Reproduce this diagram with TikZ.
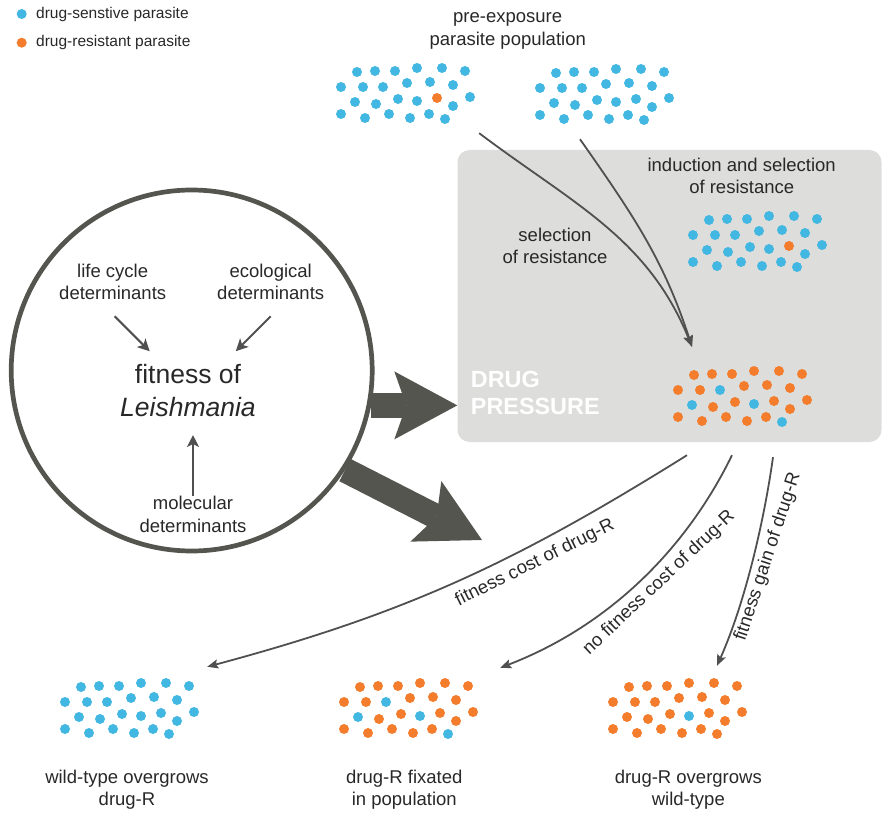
\documentclass[tikz,border=0pt]{standalone}
\usepackage{fontspec}
\setmainfont{Liberation Sans}
\usetikzlibrary{arrows.meta,calc}
\definecolor{sensblue}{RGB}{66,183,226}
\definecolor{resorange}{RGB}{243,125,44}
\definecolor{txtgray}{RGB}{40,40,40}
\definecolor{arrowgray}{RGB}{80,80,80}
\definecolor{circlegray}{RGB}{85,85,80}
\definecolor{boxgray}{RGB}{221,221,220}
\newcommand{\labelsize}{\fontsize{18.5}{22.6}\selectfont}
\newcommand{\parasites}[2]{
	\foreach \dx/\dy [count=\idx from 0] in {-48/22,-30/23,-10/23,12/26,37/26,60/23,
		-64/7,-42/7,-22/7,2/11,25/12,48/9,
		-50/-8,-29/-10,-7/-5,12/-7,32/-4,48/-12,65/-3,
		-64/-20,-40/-24,-16/-20,5/-24,24/-20,40/-25}{
		\pgfmathtruncatemacro{\isres}{{#2}[\idx]}
		\ifnum\isres=1
			\fill[resorange] ($(#1)+(\dx,\dy)$) circle (5);
		\else
			\fill[sensblue] ($(#1)+(\dx,\dy)$) circle (5);
		\fi
	}
}
\tikzset{
	lbl/.style={font=\labelsize, text=txtgray, align=center, inner sep=0pt},
	legendtxt/.style={font=\fontsize{15.5}{19}\selectfont, text=txtgray, anchor=west, inner sep=0pt},
	cluster/.style={minimum width=140pt, minimum height=62pt, inner sep=0pt},
	drugbox/.style={fill=boxgray, rounded corners=12pt, minimum width=424pt, minimum height=292pt, inner sep=0pt},
	smallarrow/.style={arrowgray, line width=2pt, -{Stealth[length=12pt,width=12pt,inset=3pt]}},
	curvearrow/.style={arrowgray, line width=1.8pt, -{Stealth[length=11pt,width=9pt,inset=2pt]}},
	bigarrow/.style={circlegray, line width=25pt, -{Stealth[length=63pt,width=68pt,inset=12pt,line width=0pt]}}
}
\begin{document}
\begin{tikzpicture}[x=1pt,y=1pt]
	\useasboundingbox (0,0) rectangle (883,-813);

	\node[drugbox] (drug) at (669.5,-296) {};
	\node[draw=circlegray, line width=4.7pt, circle, minimum size=361pt] (fitcircle) at (191.7,-370.5) {};

	% legend
	\node[legendtxt] (legsens) at (36,-14) {drug-senstive parasite};
	\node[legendtxt] (legres) at (36,-42.7) {drug-resistant parasite};
	\fill[sensblue] ([xshift=-14.3pt]legsens.west) circle (5);
	\fill[resorange] ([xshift=-14.3pt]legres.west) circle (5);

	% populations
	\node[cluster] (pre1) at (405,-94) {};
	\node[cluster] (pre2) at (604,-95) {};
	\node[cluster] (induced) at (757,-242) {};
	\node[cluster] (respop) at (742,-397) {};
	\node[cluster] (wild) at (129,-709) {};
	\node[cluster] (fixed) at (408,-709) {};
	\node[cluster] (overgrow) at (677,-709) {};

	\parasites{pre1}{0,0,0,0,0,0, 0,0,0,0,0,0, 0,0,0,0,1,0,0, 0,0,0,0,0,0}
	\parasites{pre2}{0,0,0,0,0,0, 0,0,0,0,0,0, 0,0,0,0,0,0,0, 0,0,0,0,0,0}
	\parasites{induced}{0,0,0,0,0,0, 0,0,0,0,0,0, 0,0,0,0,1,0,0, 0,0,0,0,0,0}
	\parasites{respop}{1,1,1,1,1,1, 1,1,0,1,1,1, 0,1,1,0,1,1,1, 1,1,1,1,1,0}
	\parasites{wild}{0,0,0,0,0,0, 0,0,0,0,0,0, 0,0,0,0,0,0,0, 0,0,0,0,0,0}
	\parasites{fixed}{1,1,1,1,1,1, 1,1,0,1,1,1, 0,1,1,0,1,1,1, 1,1,1,1,1,0}
	\parasites{overgrow}{1,1,1,1,1,1, 1,1,1,1,1,1, 1,1,1,0,1,1,1, 1,1,1,1,1,1}

	% texts
	\node[lbl] (preexp) at (507.7,-31) {pre-exposure\\parasite population};
	\node[lbl] (induct) at (741.7,-176) {induction and selection\\of resistance};
	\node[lbl] (select) at (555,-246) {selection\\of resistance};
	\node[lbl] (life) at (112.7,-282) {life cycle\\determinants};
	\node[lbl] (eco) at (270.7,-282) {ecological\\determinants};
	\node[lbl, font=\fontsize{26.5}{33}\selectfont] (fit) at (188,-390.6) {fitness of\\\textit{Leishmania}};
	\node[lbl] (mol) at (193,-514.4) {molecular\\determinants};
	\node[font=\fontsize{23.4}{27.4}\selectfont\bfseries, text=white, align=left, anchor=west, inner sep=0pt] (press) at (470.7,-393) {DRUG\\PRESSURE};
	\node[lbl] (wildtxt) at (127,-789.6) {wild-type overgrows\\drug-R};
	\node[lbl] (fixtxt) at (404.3,-789.6) {drug-R fixated\\in population};
	\node[lbl] (overtxt) at (688.3,-789.6) {drug-R overgrows\\wild-type};
	\node[lbl, rotate=26.3] (costtxt) at (535,-563) {fitness cost of drug-R};
	\node[lbl, rotate=43.3] (nocosttxt) at (659,-583) {no fitness cost of drug-R};
	\node[lbl, rotate=71.7] (gaintxt) at (768,-557) {fitness gain of drug-R};

	% arrows
	\draw[smallarrow] ([shift={(2,-16)}]life.south) -- ++(-45:49.5);
	\draw[smallarrow] ([yshift=-16pt]eco.south) -- ++(-135:49.3);
	\draw[smallarrow, shorten >=18pt] (mol.north) -- (mol.north |- fit.south);

	\coordinate (lowtip) at (482,-540);
	\draw[bigarrow] (fitcircle.-11) -- (fitcircle.-11 -| drug.west);
	\draw[bigarrow] (fitcircle.-33) -- (lowtip);

	\draw[curvearrow] ([shift={(4,-8)}]pre1.south east) to[out=-37, in=112] ([shift={(-50,19)}]respop.north);
	\draw[curvearrow] ([shift={(-24,-13)}]pre2.south) to[out=-55, in=108] ([shift={(-50,19)}]respop.north);
	\draw[curvearrow] ([shift={(-55,-27)}]respop.south) to[out=212, in=15] ([shift={(8,11)}]wild.north east);
	\draw[curvearrow] ([shift={(-10,-27)}]respop.south) to[out=244, in=21, looseness=0.9] ([shift={(22,10)}]fixed.north east);
	\draw[curvearrow] ([shift={(31,-29)}]respop.south) to[out=262, in=66, looseness=0.8] ([shift={(40,12)}]overgrow.north);
\end{tikzpicture}
\end{document}
